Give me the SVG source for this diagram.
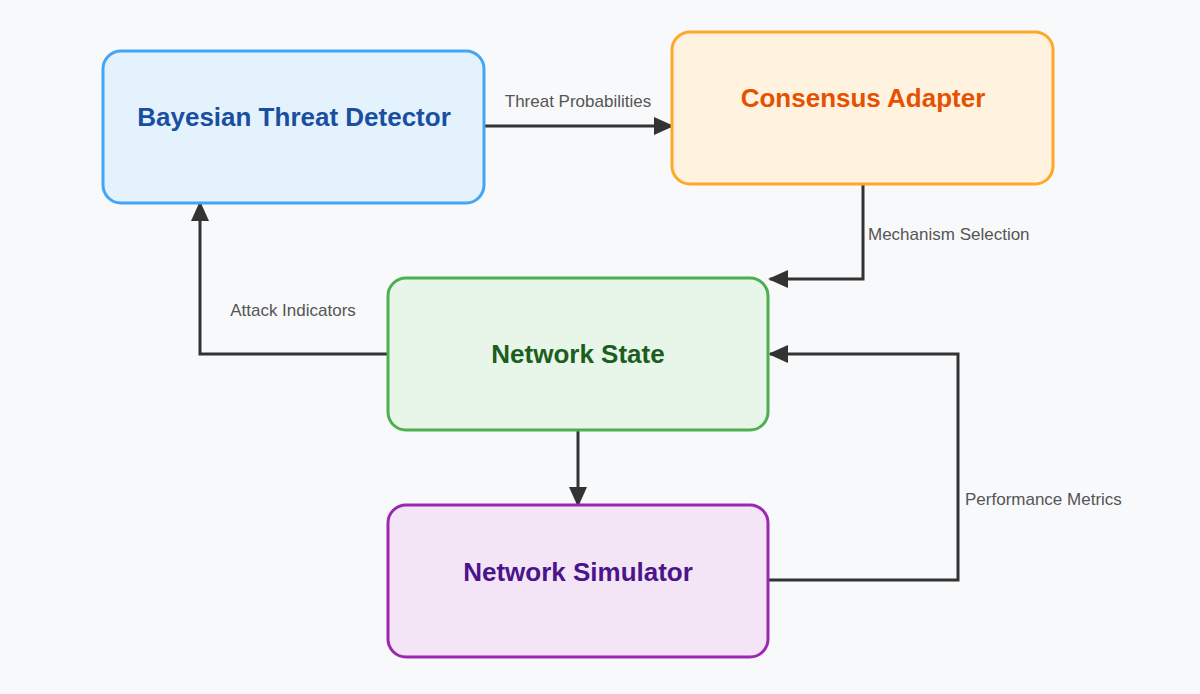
<svg xmlns="http://www.w3.org/2000/svg" width="1200" height="694" viewBox="0 0 1200 694">
<style>
.n{stroke-width:3}
.t{font-family:"Liberation Sans",Arial,sans-serif;font-weight:bold;font-size:26px;text-anchor:middle;dominant-baseline:central}
.l{font-family:"Liberation Sans",Arial,sans-serif;font-size:17px;fill:#555}
.c{fill:none;stroke:#333;stroke-width:3}
</style>
<defs><marker id="a" markerWidth="8" markerHeight="8" refX="7" refY="4" orient="auto" markerUnits="userSpaceOnUse" viewBox="0 0 8 8"><path d="M0,0L8,4L0,8z" fill="#333"/></marker>
<marker id="ah" markerWidth="20" markerHeight="20" refX="18" refY="10" orient="auto" markerUnits="userSpaceOnUse"><path d="M0,1L20,10L0,19z" fill="#333"/></marker></defs>
<rect width="1200" height="694" fill="#f8f9fb"/>
<g id="connectors">
<path class="c" d="M484,126H672" marker-end="url(#ah)"/>
<path class="c" d="M863,184V279H770" marker-end="url(#ah)"/>
<path class="c" d="M388,354H200V203" marker-end="url(#ah)"/>
<path class="c" d="M578,430V505" marker-end="url(#ah)"/>
<path class="c" d="M768,580H958V354H770" marker-end="url(#ah)"/>
<text class="l" x="578" y="107" text-anchor="middle">Threat Probabilities</text>
<text class="l" x="868" y="240">Mechanism Selection</text>
<text class="l" x="293" y="316" text-anchor="middle">Attack Indicators</text>
<text class="l" x="965" y="505">Performance Metrics</text>
</g>
<g id="bayesian"><rect class="n" x="103" y="51" width="381" height="152" rx="18" fill="#e3f2fd" stroke="#42a5f5"/><text class="t" x="294" y="117" fill="#1a4fa0">Bayesian Threat Detector</text></g>
<g id="consensus"><rect class="n" x="672" y="32" width="381" height="152" rx="18" fill="#fff3e0" stroke="#ffa726"/><text class="t" x="863" y="98" fill="#e65100">Consensus Adapter</text></g>
<g id="state"><rect class="n" x="388" y="278" width="380" height="152" rx="18" fill="#e8f5e9" stroke="#4caf50"/><text class="t" x="578" y="354" fill="#1b5e20">Network State</text></g>
<g id="simulator"><rect class="n" x="388" y="505" width="380" height="152" rx="18" fill="#f3e5f5" stroke="#9c27b0"/><text class="t" x="578" y="572" fill="#4a148c">Network Simulator</text></g>
</svg>
